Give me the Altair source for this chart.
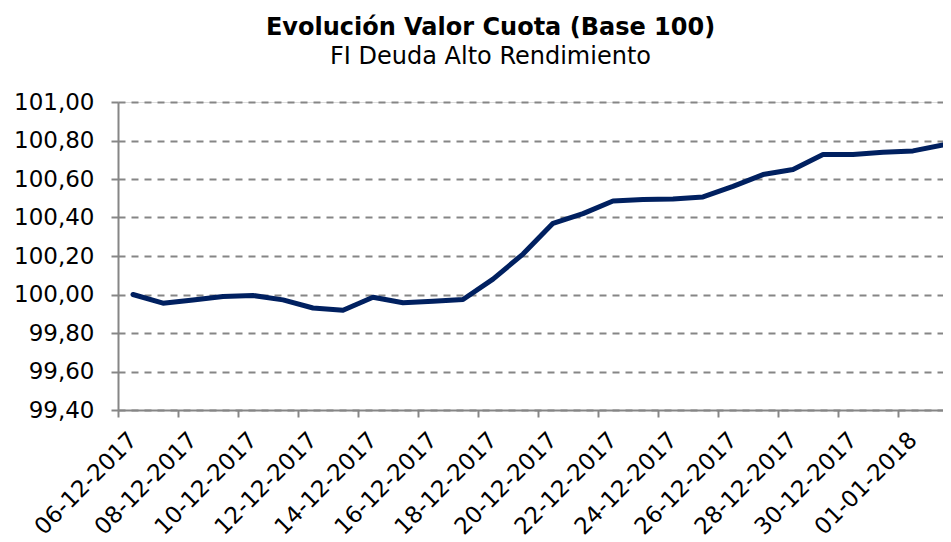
import json
import altair as alt
import pandas as pd

# --- data ---
fechas = [
    "06-12-2017", "07-12-2017", "08-12-2017", "09-12-2017", "10-12-2017",
    "11-12-2017", "12-12-2017", "13-12-2017", "14-12-2017", "15-12-2017",
    "16-12-2017", "17-12-2017", "18-12-2017", "19-12-2017", "20-12-2017",
    "21-12-2017", "22-12-2017", "23-12-2017", "24-12-2017", "25-12-2017",
    "26-12-2017", "27-12-2017", "28-12-2017", "29-12-2017", "30-12-2017",
    "31-12-2017", "01-01-2018", "02-01-2018",
]
valores = [
    100.000, 99.955, 99.972, 99.990, 99.995, 99.972, 99.930, 99.918,
    99.986, 99.957, 99.965, 99.974, 100.080, 100.210, 100.370, 100.420,
    100.486, 100.493, 100.496, 100.507, 100.562, 100.623, 100.649, 100.727,
    100.727, 100.739, 100.746, 100.777,
]
y_ticks = [99.4, 99.6, 99.8, 100.0, 100.2, 100.4, 100.6, 100.8, 101.0]
x_label_idx = list(range(0, 27, 2))

df = pd.DataFrame({"idx": list(range(len(fechas))), "fecha": fechas, "valor": valores})

GRAY = "#868686"
FONT = "DejaVu Sans"

label_expr_x = json.dumps(fechas) + "[datum.value]"

chart = (
    alt.Chart(df)
    .mark_line(color="#002060", strokeWidth=5, strokeCap="round", strokeJoin="round")
    .encode(
        x=alt.X(
            "idx:Q",
            scale=alt.Scale(domain=[-0.5, 27], nice=False, zero=False),
            axis=alt.Axis(
                values=x_label_idx,
                labelExpr=label_expr_x,
                tickOffset=-15,
                labelOffset=15,
                labelAngle=-45,
                labelAlign="right",
                labelBaseline="middle",
                labelOverlap=False,
                labelFlush=False,
                labelFont=FONT,
                labelFontSize=23,
                labelColor="black",
                labelPadding=19,
                tickSize=7,
                tickWidth=2,
                tickColor=GRAY,
                domainColor=GRAY,
                domainWidth=2,
                grid=False,
                title=None,
            ),
        ),
        y=alt.Y(
            "valor:Q",
            scale=alt.Scale(domain=[99.4, 101.0], nice=False, zero=False),
            axis=alt.Axis(
                values=y_ticks,
                labelExpr="replace(format(datum.value, '.2f'), '.', ',')",
                labelFont=FONT,
                labelFontSize=23,
                labelColor="black",
                labelPadding=17,
                tickSize=7,
                tickWidth=2,
                tickColor=GRAY,
                domainColor=GRAY,
                domainWidth=2,
                grid=True,
                gridColor=GRAY,
                gridWidth=2,
                gridDash=[7, 6],
                title=None,
            ),
        ),
        tooltip=["fecha:N", "valor:Q"],
    )
    .properties(
        width=825,
        height=308,
        autosize=alt.AutoSizeParams(type="none"),
        padding={"left": 110, "top": 94, "right": 0, "bottom": 132},
        title=alt.TitleParams(
            text="Evolución Valor Cuota (Base 100)",
            subtitle="FI Deuda Alto Rendimiento",
            font=FONT,
            fontSize=24,
            fontWeight="bold",
            color="black",
            subtitleFont=FONT,
            subtitleFontSize=24,
            subtitleColor="black",
            subtitlePadding=5,
            anchor="middle",
            dx=-40,
            offset=22,
        ),
    )
    .configure_view(stroke=None)
    .configure(background="white")
)

chart.save("out.html", embed_options={"renderer": "svg", "actions": False})
